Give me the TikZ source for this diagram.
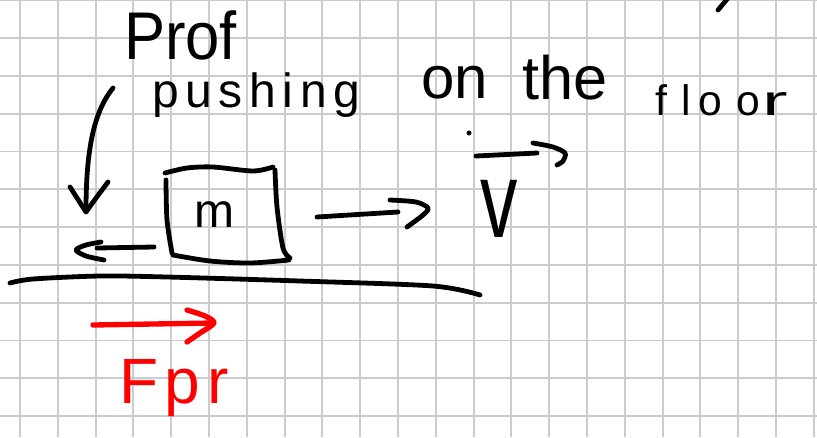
\documentclass[tikz,border=0pt]{standalone}
\usepackage{fontspec}
\setmainfont{Liberation Sans}
\usepackage{graphicx}
\definecolor{gridgray}{RGB}{204,204,204}
\definecolor{inkred}{RGB}{255,0,0}
\tikzset{
  gridline/.style={draw=gridgray, line width=1.4pt},
  ink/.style={draw=black, line width=3.6pt, line cap=round, line join=round},
  redink/.style={draw=inkred, line width=4pt, line cap=round, line join=round},
  word/.style={anchor=base west, inner sep=0pt, outer sep=0pt},
}
\begin{document}
\begin{tikzpicture}[x=0.75pt,y=-0.75pt]
\useasboundingbox (0,0) rectangle (817,437);
\fill[white] (0,0) rectangle (817,437);
% grid paper
\foreach \i in {0,...,21} \draw[gridline] ({20+37.8*\i},0) -- ({20+37.8*\i},437);
\foreach \j in {0,...,11} \draw[gridline] (0,{0.3+37.8*\j}) -- (817,{0.3+37.8*\j});

% handwritten words
\node[word, font=\fontsize{44pt}{44pt}\selectfont] (prof) at (124,59) {\scalebox{1.05}[1.15]{Prof}};
\node[word, font=\fontsize{36pt}{36pt}\selectfont] (pushing) at (152,107)
  {p\kern5pt u\kern5pt s\kern5pt h\kern5pt i\kern5pt n\kern5pt g};
\node[word, font=\fontsize{45pt}{45pt}\selectfont] (on) at (421,98) {on};
\node[word, font=\fontsize{46pt}{46pt}\selectfont] (the) at (522,99) {the};
\node[word, font=\fontsize{32pt}{32pt}\selectfont] (floor) at (655,115)
  {f\kern11pt l\kern6pt o\kern10pt o\kern2pt\scalebox{1.8}[1]{r}};
\node[word, font=\fontsize{36pt}{36pt}\selectfont] (m) at (194,227) {m};
\node[word, font=\fontsize{56pt}{56pt}\selectfont] (v) at (480,237) {\scalebox{1}[1.45]{v}};
\node[word, text=inkred, font=\fontsize{48pt}{48pt}\selectfont] (fpr) at (119,403) {F\kern5pt p\kern5pt r};

% stray mark top right
\draw[ink] (718,10) -- (728,-2);

% curved arrow pointing down to floor
\coordinate (cs) at (113,88);
\coordinate (ct) at (86,210);
\draw[ink] (cs) .. controls (97,108) and (86,140) .. (ct);
\draw[ink] (70,187) .. controls (78,200) .. (86,212) .. controls (96,198) .. (108,182);

% box
\draw[ink] plot[smooth] coordinates {(165,173) (187,168) (213,167) (253,171) (273,167)};
\draw[ink] plot[smooth] coordinates {(275,170) (277,207) (283,248) (290,258)};
\draw[ink] plot[smooth] coordinates {(289,260) (250,263) (210,261) (173,255)};
\draw[ink] plot[smooth] coordinates {(166,180) (167,220) (172,253)};

% left arrow
\coordinate (la) at (154,247);
\coordinate (lb) at (97,248);
\draw[ink] (la) -- (lb);
\draw[ink] plot[smooth] coordinates {(101,242) (86,245) (76,250) (86,256) (104,260)};

% right arrow
\coordinate (ra) at (317,217);
\coordinate (rb) at (398,212);
\draw[ink] (ra) -- (rb);
\draw[ink] plot[smooth] coordinates {(390,200) (416,202) (428,208) (423,215) (407,227)};

% floor
\draw[ink] plot[smooth] coordinates {(10,283) (33,279) (100,276) (167,277) (300,281) (433,286) (480,295)};

% vector arrow above v
\fill (469,133) circle (2.5);
\coordinate (va) at (476,156);
\coordinate (vb) at (537,153);
\draw[ink] (va) -- (vb);
\draw[ink] plot[smooth] coordinates {(533,143) (553,147) (565,153) (563,161) (557,165)};

% red arrow
\coordinate (fa) at (93,325);
\coordinate (fb) at (213,323);
\draw[redink] (fa) -- (fb);
\draw[redink] plot[smooth] coordinates {(187,310) (205,316) (214,323) (200,333) (187,342)};
\end{tikzpicture}
\end{document}
